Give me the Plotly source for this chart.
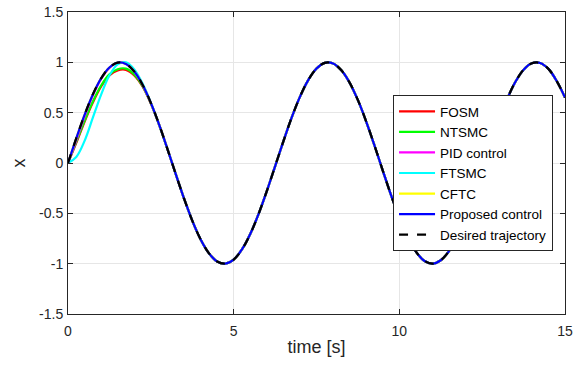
import plotly.graph_objects as go

time = [0, 0.25, 0.5, 0.75, 1.0, 1.25, 1.5, 1.75, 2.0, 2.25, 2.5, 2.75, 3.0, 3.25, 3.5,
        3.75, 4.0, 4.25, 4.5, 4.75, 5.0, 5.25, 5.5, 5.75, 6.0, 6.25, 6.5, 6.75, 7.0, 7.25,
        7.5, 7.75, 8.0, 8.25, 8.5, 8.75, 9.0, 9.25, 9.5, 9.75, 10.0, 10.25, 10.5, 10.75,
        11.0, 11.25, 11.5, 11.75, 12.0, 12.25, 12.5, 12.75, 13.0, 13.25, 13.5, 13.75, 14.0,
        14.25, 14.5, 14.75, 15.0]

desired = [0.0, 0.247, 0.479, 0.682, 0.841, 0.949, 0.997, 0.984, 0.909, 0.778, 0.598, 0.382,
           0.141, -0.108, -0.351, -0.572, -0.757, -0.895, -0.978, -0.999, -0.959, -0.859,
           -0.706, -0.508, -0.279, -0.033, 0.215, 0.451, 0.657, 0.823, 0.938, 0.995, 0.989,
           0.921, 0.798, 0.624, 0.412, 0.174, -0.075, -0.320, -0.544, -0.737, -0.880, -0.971,
           -1.000, -0.966, -0.875, -0.730, -0.537, -0.311, -0.066, 0.182, 0.420, 0.632, 0.804,
           0.927, 0.991, 0.994, 0.935, 0.814, 0.650]

# transient part (first 13 samples, t = 0 .. 3.0); afterwards the controllers track the reference
fosm_start = [0.0, 0.20, 0.41, 0.60, 0.76, 0.87, 0.92, 0.925, 0.87, 0.76, 0.59, 0.38, 0.14]
ntsmc_start = [0.0, 0.21, 0.42, 0.61, 0.77, 0.88, 0.932, 0.937, 0.88, 0.765, 0.593, 0.38, 0.14]
pid_start = [0.0, 0.225, 0.46, 0.67, 0.835, 0.945, 0.995, 0.984, 0.909, 0.778, 0.598, 0.382, 0.141]
ftsmc_start = [0.0, 0.06, 0.22, 0.45, 0.68, 0.87, 0.98, 1.0, 0.93, 0.79, 0.60, 0.38, 0.14]
cftc_start = [0.0, 0.244, 0.477, 0.680, 0.840, 0.948, 0.997, 0.984, 0.909, 0.778, 0.598, 0.382, 0.141]
proposed_start = [0.0, 0.245, 0.478, 0.681, 0.841, 0.949, 0.997, 0.984, 0.909, 0.778, 0.598, 0.382, 0.141]

names = ["FOSM", "NTSMC", "PID control", "FTSMC", "CFTC", "Proposed control"]
colors = ["#ff0000", "#00ff00", "#ff00ff", "#00ffff", "#ffff00", "#0000ff"]
starts = [fosm_start, ntsmc_start, pid_start, ftsmc_start, cftc_start, proposed_start]

fig = go.Figure()
for name, color, st in zip(names, colors, starts):
    y = st + desired[len(st):]
    fig.add_trace(go.Scatter(x=time, y=y, mode="lines", name=name,
                             line=dict(color=color, width=2.2, shape="spline")))
fig.add_trace(go.Scatter(x=time, y=desired, mode="lines", name="Desired trajectory",
                         line=dict(color="black", width=2.2, dash="dash", shape="spline")))

FONT = "Liberation Sans, Arial"
axis_common = dict(showline=True, linecolor="#262626", linewidth=1, mirror="ticks",
                   ticks="inside", ticklen=5, tickcolor="#262626", automargin=False,
                   showgrid=True, gridcolor="#e6e6e6", gridwidth=1, zeroline=False,
                   tickfont=dict(family=FONT, size=14, color="#262626"))

fig.update_layout(
    width=584, height=369,
    margin=dict(l=68, r=19, t=12, b=55),
    paper_bgcolor="white", plot_bgcolor="white",
    font=dict(family=FONT, size=14, color="#262626"),
    xaxis=dict(range=[0, 15], tickvals=[0, 5, 10, 15], ticklabelstandoff=4,
               title=dict(text="time [s]", font=dict(size=18), standoff=2), **axis_common),
    yaxis=dict(range=[-1.5, 1.5], tickvals=[-1.5, -1, -0.5, 0, 0.5, 1, 1.5],
               ticktext=["-1.5", "-1", "-0.5", "0", "0.5", "1", "1.5"], ticklabelstandoff=1,
               title=dict(text="x", font=dict(size=18), standoff=8), **axis_common),
    legend=dict(x=0.654, y=0.725, xanchor="left", yanchor="top",
                bgcolor="white", bordercolor="#262626", borderwidth=1,
                font=dict(family=FONT, size=13.5, color="black"),
                tracegroupgap=0, itemwidth=36),
    showlegend=True,
)

fig.write_html("out.html")
